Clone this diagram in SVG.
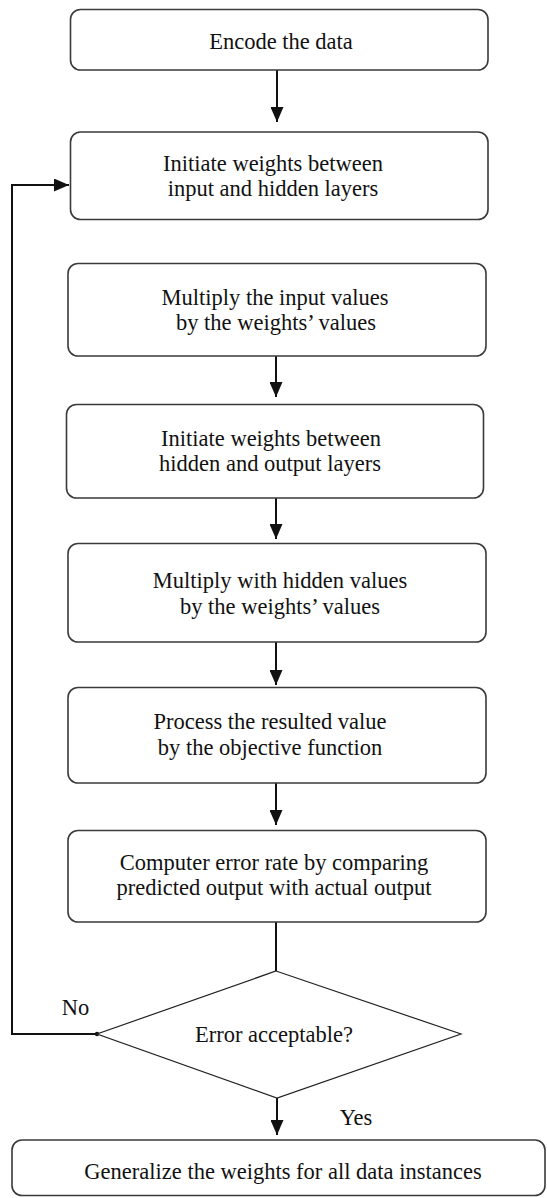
<svg xmlns="http://www.w3.org/2000/svg" width="547" height="1198" viewBox="0 0 547 1198">
  <style>
    .box { fill: #ffffff; stroke: #3a3a3a; stroke-width: 1.6; }
    .dia { fill: #ffffff; stroke: #222222; stroke-width: 1.2; }
    .lbl { font-family: "Liberation Serif", "Times New Roman", serif; font-size: 22.5px; fill: #111111; text-anchor: middle; }
    .edge { fill: none; stroke: #111111; stroke-width: 2; }
  </style>
  <defs>
    <marker id="ah" markerUnits="userSpaceOnUse" markerWidth="15" markerHeight="13" refX="15" refY="6.5" orient="auto">
      <path d="M0,0 L15,6.5 L0,13 z" fill="#111111"/>
    </marker>
  </defs>
  <rect width="547" height="1198" fill="#ffffff"/>

  <g id="connectors">
    <line class="edge" x1="277" y1="70" x2="277" y2="122" marker-end="url(#ah)"/>
    <line class="edge" x1="276" y1="356" x2="276" y2="397" marker-end="url(#ah)"/>
    <line class="edge" x1="276" y1="498" x2="276" y2="539" marker-end="url(#ah)"/>
    <line class="edge" x1="276" y1="642" x2="276" y2="685" marker-end="url(#ah)"/>
    <line class="edge" x1="276" y1="783" x2="276" y2="825" marker-end="url(#ah)"/>
    <line class="edge" x1="276" y1="922" x2="276" y2="971"/>
    <line class="edge" x1="277" y1="1098" x2="277" y2="1135" marker-end="url(#ah)"/>
    <polyline class="edge" points="97,1034 12,1034 12,185 69,185" marker-end="url(#ah)"/>
    <circle cx="97" cy="1034" r="2.2" fill="#111111"/>
  </g>

  <g id="n1">
    <rect class="box" x="70.5" y="9.5" width="417.5" height="60.5" rx="10"/>
    <text class="lbl" x="281" y="49">Encode the data</text>
  </g>
  <g id="n2">
    <rect class="box" x="70.5" y="132" width="417.5" height="87.5" rx="10"/>
    <text class="lbl" x="273" y="171">Initiate weights between</text>
    <text class="lbl" x="273" y="196">input and hidden layers</text>
  </g>
  <g id="n3">
    <rect class="box" x="68" y="263.5" width="418" height="92.5" rx="10"/>
    <text class="lbl" x="275" y="305">Multiply the input values</text>
    <text class="lbl" x="276" y="330">by the weights’ values</text>
  </g>
  <g id="n4">
    <rect class="box" x="66.5" y="404.5" width="417" height="93.5" rx="10"/>
    <text class="lbl" x="271" y="446">Initiate weights between</text>
    <text class="lbl" x="270" y="471">hidden and output layers</text>
  </g>
  <g id="n5">
    <rect class="box" x="68" y="543.5" width="418" height="98.5" rx="10"/>
    <text class="lbl" x="280" y="588">Multiply with hidden values</text>
    <text class="lbl" x="280" y="614">by the weights’ values</text>
  </g>
  <g id="n6">
    <rect class="box" x="68" y="687.5" width="418" height="95.5" rx="10"/>
    <text class="lbl" x="270" y="729">Process the resulted value</text>
    <text class="lbl" x="270" y="755">by the objective function</text>
  </g>
  <g id="n7">
    <rect class="box" x="68" y="830.5" width="418" height="91.5" rx="10"/>
    <text class="lbl" x="274" y="870">Computer error rate by comparing</text>
    <text class="lbl" x="274" y="895">predicted output with actual output</text>
  </g>
  <g id="n8">
    <polygon class="dia" points="276,971 461,1034 277,1098 97,1034"/>
    <text class="lbl" x="274" y="1042">Error acceptable?</text>
  </g>
  <g id="n9">
    <rect class="box" x="12" y="1140" width="533" height="55.5" rx="10"/>
    <text class="lbl" x="283" y="1179">Generalize the weights for all data instances</text>
  </g>
  <g id="labels">
    <text class="lbl" x="75.5" y="1015">No</text>
    <text class="lbl" x="356" y="1125">Yes</text>
  </g>
</svg>
